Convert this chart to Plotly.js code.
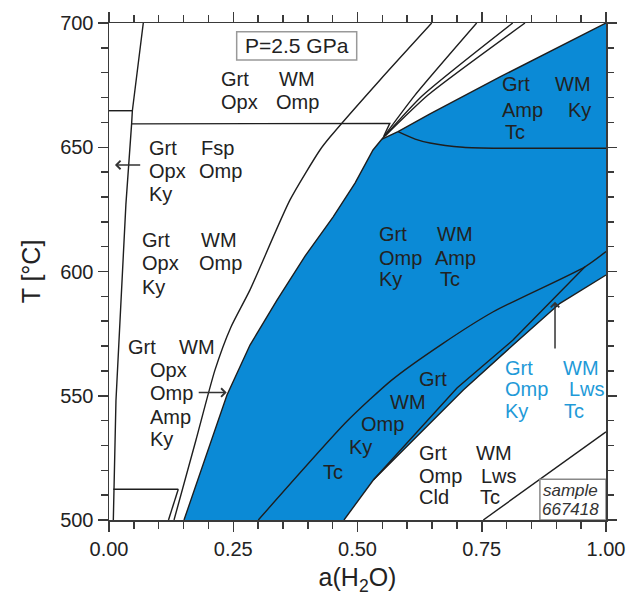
<!DOCTYPE html>
<html><head><meta charset="utf-8">
<script src="https://cdn.plot.ly/plotly-3.0.1.min.js"></script>
<style>html,body{margin:0;padding:0;background:#fff}</style>
</head><body><div id="chart" style="width:632px;height:599px"></div>
<script>
// ---- data (x = a(H2O), T = temperature °C) ----
const leftSteepX = [0.069, 0.047, 0.0455, 0.034, 0.014, 0.0087];
const leftSteepT = [700, 664.7, 659.4, 627, 548, 500];
const topShortX = [0, 0.047];
const topShortT = [664.7, 664.7];
const hLineX = [0.0455, 0.565, 0.553];
const hLineT = [659.4, 659.6, 654.5];
const lowShortX = [0.0087, 0.1394];
const lowShortT = [512.4, 512.4];
const lineBX = [0.1394, 0.1197];
const lineBT = [512.4, 500];
const lineAX = [0.1308, 0.1750, 0.2133, 0.2450, 0.2837, 0.3642, 0.4245, 0.4447, 0.5453, 0.6493];
const lineAT = [500, 532.2, 560.4, 577.5, 592.6, 628.8, 648.9, 654.1, 677.1, 700];
const fan1X = [0.5493, 0.6157, 0.7398];
const fan1T = [653.3, 671, 700];
const fan2X = [0.553, 0.6298, 0.8123];
const fan2T = [654, 670.6, 700];
const fan3X = [0.556, 0.6419, 0.837];
const fan3T = [654.6, 671, 700];
const blueLeftX = [0.1509, 0.1932, 0.2374, 0.2837, 0.3380, 0.3944, 0.4507, 0.4950, 0.5312, 0.5493];
const blueLeftT = [500, 524.95, 550.3, 570.4, 588.5, 606.2, 621.9, 635.6, 648.9, 653.3];
const blueTopX = [0.5493, 0.5815, 0.6459, 0.7867, 1.0];
const blueTopT = [653.3, 656.3, 663.4, 678.3, 700];
const innerX = [0.5815, 0.6160, 0.6459, 0.7123, 0.7867, 1.0];
const innerT = [656.3, 653.3, 651.7, 650.0, 649.6, 649.6];
const blueBottomX = [0.4728, 0.5318, 0.6123, 0.7129, 0.8129, 0.9074, 1.0];
const blueBottomT = [500, 516.1, 532.2, 552.3, 570.4, 587.2, 598.6];
const lineMX = [0.5318, 0.6056, 0.7002, 0.8129, 0.9577];
const lineMT = [516.1, 532.2, 553.1, 572.4, 601.9];
const lineUX = [0.3004, 0.4783, 0.5688, 0.6700, 0.7732, 0.9577, 1.0];
const lineUT = [500, 539.6, 556.3, 570.8, 583.8, 601.9, 608.0];
const lineRX = [0.7531, 1.0];
const lineRT = [500, 535.5];
const xTickVals = [0, 0.25, 0.5, 0.75, 1.0];
const xTickText = ['0.00', '0.25', '0.50', '0.75', '1.00'];
const yTickVals = [500, 550, 600, 650, 700];

// ---- traces ----
const BLUE = '#0b8ad6';
const INK = '#1e1e1e';
const polyX = blueLeftX.concat(blueTopX.slice(1), blueBottomX.slice().reverse());
const polyT = blueLeftT.concat(blueTopT.slice(1), blueBottomT.slice().reverse());
const traces = [{
  x: polyX, y: polyT, mode: 'lines', fill: 'toself', fillcolor: BLUE,
  line: {width: 0}, hoverinfo: 'skip', showlegend: false
}];
function ln(x, y, smooth) {
  traces.push({x: x, y: y, mode: 'lines',
    line: {color: INK, width: 1.4, shape: smooth ? 'spline' : 'linear', smoothing: 0.6},
    hoverinfo: 'skip', showlegend: false});
}
ln(leftSteepX, leftSteepT); ln(topShortX, topShortT); ln(hLineX, hLineT);
ln(lowShortX, lowShortT); ln(lineBX, lineBT); ln(lineAX, lineAT, true);
ln(fan1X, fan1T, true); ln(fan2X, fan2T, true); ln(fan3X, fan3T, true);
ln(blueLeftX, blueLeftT); ln(blueTopX, blueTopT); ln(innerX, innerT, true);
ln(blueBottomX, blueBottomT); ln(lineMX, lineMT); ln(lineUX, lineUT, true); ln(lineRX, lineRT);
// invisible trace that carries the mirrored (top/right) tick axes
traces.push({x: [xTickVals[2]], y: [yTickVals[2]], xaxis: 'x2', yaxis: 'y2', mode: 'markers',
  marker: {opacity: 0}, hoverinfo: 'skip', showlegend: false});

// ---- labels ----
const FONT = 'Arial, "Liberation Sans", sans-serif';
function lab(t, x, y, anchor, color) {
  return {text: t, x: x, y: y, xref: 'x', yref: 'y', showarrow: false,
    xanchor: anchor || 'left', yanchor: 'middle',
    font: {family: FONT, size: 20, color: color || '#222'}};
}
const LB = '#1f9ad8';
const ann = [
  lab('Grt',0.2219,677.46), lab('WM',0.3374,677.46), lab('Opx',0.2219,668.33), lab('Omp',0.3326,668.33),
  lab('Grt',0.0759,649.9), lab('Opx',0.0759,640.52), lab('Ky',0.0759,631.19), lab('Fsp',0.1811,649.9), lab('Omp',0.1765,640.52),
  lab('Grt',0.0624,612.68), lab('Opx',0.0624,603.42), lab('Ky',0.0624,593.76), lab('WM',0.1811,612.68), lab('Omp',0.1765,603.42),
  lab('Grt',0.0336,569.74), lab('WM',0.1374,569.74), lab('Opx',0.0775,560.36), lab('Omp',0.0775,550.99), lab('Amp',0.0775,541.57), lab('Ky',0.0775,532.52),
  lab('Grt',0.5386,615.01), lab('Omp',0.5386,605.63), lab('Ky',0.5386,596.9), lab('WM',0.6559,615.01), lab('Amp',0.6525,605.63), lab('Tc',0.6626,596.9),
  lab('Grt',0.7867,675.45), lab('Amp',0.7867,664.99), lab('Tc',0.7922,656.26), lab('WM',0.9744,675.45,'right'), lab('Ky',0.9744,664.99,'right'),
  lab('Grt',0.6203,556.74), lab('WM',0.5620,547.61), lab('Omp',0.5036,538.63), lab('Ky',0.4783,529.18), lab('Tc',0.4748,519.44,'right'),
  lab('Grt',0.7934,561.37,'left',LB), lab('Omp',0.7934,552.72,'left',LB), lab('Ky',0.7934,543.94,'left',LB),
  lab('WM',0.9095,561.37,'left',LB), lab('Lws',0.9209,552.72,'left',LB), lab('Tc',0.9121,543.94,'left',LB),
  lab('Grt',0.6203,526.84), lab('Omp',0.6203,517.79), lab('Cld',0.6203,509.38), lab('WM',0.7350,526.84), lab('Lws',0.7445,517.79), lab('Tc',0.7431,509.38),
  {text: 'P=2.5 GPa', x: 0.3777, y: 690.8, xref: 'x', yref: 'y', showarrow: false, xanchor: 'center', yanchor: 'middle',
   font: {family: FONT, size: 21, color: '#222'}},
  {text: '<i>sample</i>', x: 0.9279, y: 511.75, xref: 'x', yref: 'y', showarrow: false, xanchor: 'center', yanchor: 'middle',
   font: {family: FONT, size: 17, color: '#333'}},
  {text: '<i>667418</i>', x: 0.9279, y: 504.1, xref: 'x', yref: 'y', showarrow: false, xanchor: 'center', yanchor: 'middle',
   font: {family: FONT, size: 17, color: '#333'}}
];
function arrow(x, y, ax, ay) {
  return {text: '', x: x, y: y, ax: ax, ay: ay, xref: 'x', yref: 'y', axref: 'x', ayref: 'y',
    showarrow: true, arrowhead: 4, arrowsize: 1.1, arrowwidth: 1.5, arrowcolor: '#333', standoff: 0, startstandoff: 0};
}
ann.push(arrow(0.012, 642.86, 0.0658, 642.86));
ann.push(arrow(0.2368, 551.3, 0.1775, 551.3));
ann.push(arrow(0.8974, 587.8, 0.8974, 568.4));

const AX = '#3a3a3a';
const FONT_T = {family: FONT, size: 20, color: '#222'};
const layout = {
  width: 632, height: 599,
  margin: {l: 109, r: 26, t: 23, b: 79},
  paper_bgcolor: '#fff', plot_bgcolor: '#fff',
  showlegend: false,
  xaxis: {
    showline: true, linecolor: AX, linewidth: 1.5, mirror: true,
    ticks: 'outside', ticklen: 10, tickwidth: 1.5, tickcolor: AX, showgrid: false, zeroline: false,
    range: [0, 1], tickvals: xTickVals, ticktext: xTickText, tickfont: FONT_T,
    minor: {dtick: 0.05, ticks: 'outside', ticklen: 7, tickwidth: 1.5, tickcolor: AX},
    title: {text: 'a(H<sub>2</sub>O)', font: {family: FONT, size: 25, color: '#222'}, standoff: 10}
  },
  yaxis: {
    showline: true, linecolor: AX, linewidth: 1.5, mirror: true,
    ticks: 'outside', ticklen: 10, tickwidth: 1.5, tickcolor: AX, showgrid: false, zeroline: false,
    range: [500, 700], tickvals: yTickVals, tickfont: FONT_T,
    minor: {dtick: 10, ticks: 'outside', ticklen: 7, tickwidth: 1.5, tickcolor: AX},
    title: {text: 'T [°C]', font: {family: FONT, size: 25, color: '#222'}, standoff: 12}
  },
  xaxis2: {overlaying: 'x', side: 'top', range: [0, 1], ticks: 'outside', ticklen: 10, tickcolor: AX, tickwidth: 1.5,
           tickvals: xTickVals, showticklabels: false, showgrid: false, zeroline: false,
           minor: {dtick: 0.05, ticks: 'outside', ticklen: 7, tickcolor: AX, tickwidth: 1.5}},
  yaxis2: {overlaying: 'y', side: 'right', range: [500, 700], ticks: 'outside', ticklen: 10, tickcolor: AX, tickwidth: 1.5,
           tickvals: yTickVals, showticklabels: false, showgrid: false, zeroline: false,
           minor: {dtick: 10, ticks: 'outside', ticklen: 7, tickcolor: AX, tickwidth: 1.5}},
  shapes: [
    {type: 'rect', xref: 'x', yref: 'y', x0: 0.2569, x1: 0.4984, y0: 685.1, y1: 696.5,
     line: {color: '#999', width: 1.5}, fillcolor: 'rgba(0,0,0,0)'},
    {type: 'rect', xref: 'x', yref: 'y', x0: 0.867, x1: 1.0, y0: 500, y1: 516.4,
     line: {color: '#888', width: 1.5}, fillcolor: 'rgba(0,0,0,0)'}
  ],
  annotations: ann
};
Plotly.newPlot('chart', traces, layout, {staticPlot: true, displayModeBar: false});
</script></body></html>
